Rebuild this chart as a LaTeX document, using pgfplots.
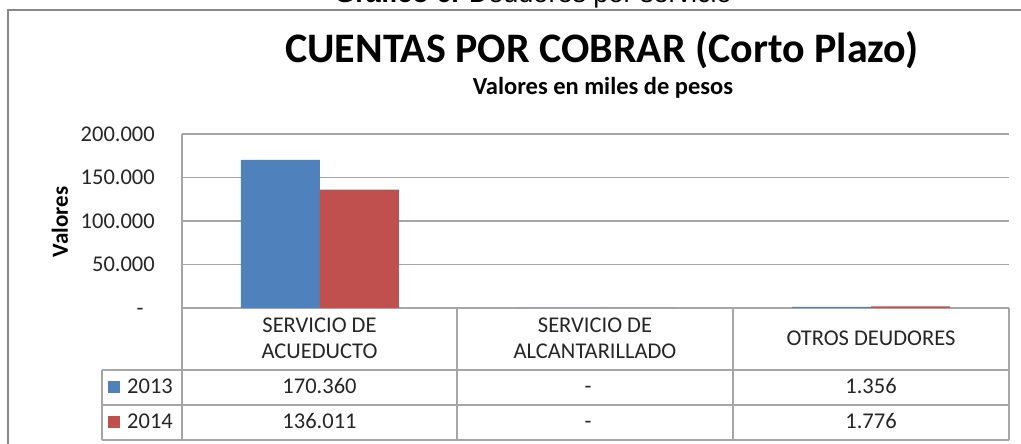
\documentclass[border=0pt]{standalone}
\usepackage{pgfplots}
\pgfplotsset{compat=1.18}
\usepackage{fontspec}
\setmainfont{Carlito}
\newfontfamily\arialf{Liberation Sans}
\definecolor{c13}{HTML}{4F81BD}
\definecolor{c14}{HTML}{C0504D}
\definecolor{gl}{HTML}{A6A6A6}
\definecolor{bd}{HTML}{898989}
\newcommand{\tf}{\fontsize{22.5}{26}\selectfont}
\begin{document}
\begin{tikzpicture}[x=1pt,y=1pt]
\useasboundingbox (0,0) rectangle (1021,444);
\clip (0,0) rectangle (1021,444);
\fill[white] (0,0) rectangle (1021,444);
\draw[bd, line width=1.5pt] (8,434) rectangle (1040,-20);
\node[anchor=base, font=\arialf\fontsize{27}{30}\selectfont] at (533,441) {\textbf{Gráfico 6.} Deudores por servicio};
\node[anchor=base, font=\bfseries\fontsize{42}{50}\selectfont] at (602,381) {CUENTAS POR COBRAR (Corto Plazo)};
\node[anchor=base, font=\bfseries\fontsize{24.5}{28}\selectfont] at (603,349) {Valores en miles de pesos};
\node[rotate=90, font=\bfseries\fontsize{23}{26}\selectfont] at (60,222) {Valores};
\begin{axis}[at={(182pt,136pt)}, anchor=south west,
  width=827pt, height=174pt, scale only axis,
  xmin=-0.5, xmax=2.5, ymin=0, ymax=200000,
  xtick=\empty,
  ytick={0,50000,100000,150000,200000},
  yticklabels={-\phantom{0},50.000,100.000,150.000,200.000},
  scaled y ticks=false,
  ymajorgrids, grid style={gl, line width=1.2pt},
  axis x line*=bottom, axis y line*=left,
  axis line style={gl, line width=1.2pt, -},
  major tick length=0pt,
  yticklabel style={font=\tf, text=black!85, inner sep=0pt, xshift=-27pt},
  ybar=0pt, bar width=79pt,
  clip=false]
\addplot[fill=c13, draw=none] coordinates {(0,170360) (1,0) (2,1356)};
\addplot[fill=c14, draw=none] coordinates {(0,136011) (1,0) (2,1776)};
\end{axis}
\begin{scope}[gl, line width=1.2pt]
\draw (102,74) -- (1009,74);
\draw (102,39) -- (1009,39);
\draw (102,4) -- (1009,4);
\draw (102,74) -- (102,4);
\draw (182,136) -- (182,4);
\draw (457,136) -- (457,4);
\draw (733,136) -- (733,4);
\draw (1009,136) -- (1009,4);
\end{scope}
\begin{scope}[every node/.style={font=\tf, text=black!85, anchor=base, inner sep=0pt}]
\node at (319.5,111) {SERVICIO DE};
\node at (319.5,85) {ACUEDUCTO};
\node at (595,111) {SERVICIO DE};
\node at (595,85) {ALCANTARILLADO};
\node at (871,98) {OTROS DEUDORES};
\node at (319.5,50) {170.360};
\node at (319.5,15) {136.011};
\node at (588,50) {-};
\node at (588,15) {-};
\node at (871,50) {1.356};
\node at (871,15) {1.776};
\node[anchor=base west] at (127,50) {2013};
\node[anchor=base west] at (127,15) {2014};
\end{scope}
\fill[c13] (108,51) rectangle (120,63);
\fill[c14] (108,16) rectangle (120,28);
\end{tikzpicture}
\end{document}
